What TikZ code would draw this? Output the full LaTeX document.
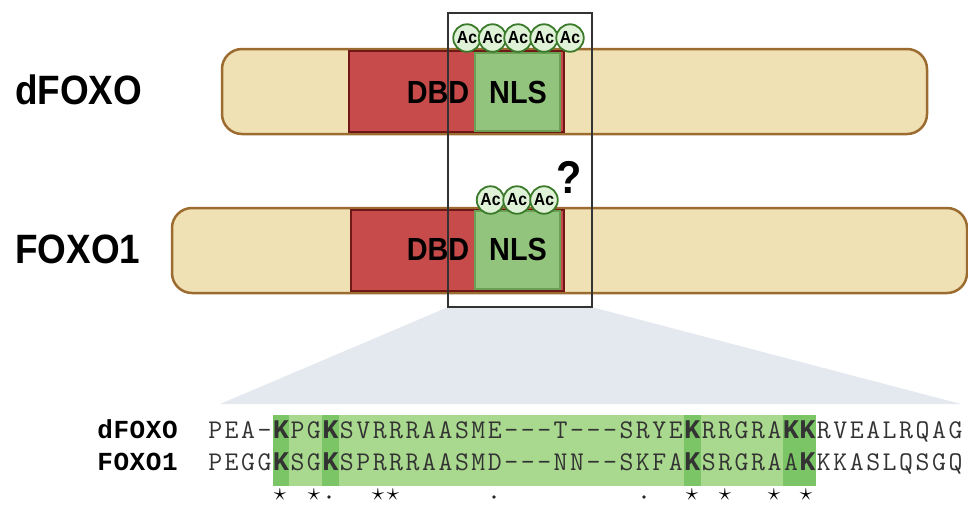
\documentclass[tikz,border=0pt]{standalone}
\usepackage{fontspec}
\newfontfamily\rob[FakeStretch=0.9]{Liberation Sans}
\newfontfamily\lmono{Liberation Mono}
\newcommand\bk{{\lmono\bfseries K}}
\definecolor{barfill}{HTML}{F0E1B5}
\definecolor{barline}{HTML}{9C6B30}
\definecolor{dbdfill}{HTML}{C84B4B}
\definecolor{dbdline}{HTML}{701818}
\definecolor{nlsfill}{HTML}{93C47D}
\definecolor{nlsline}{HTML}{6AA054}
\definecolor{acfill}{HTML}{DFF2D8}
\definecolor{acline}{HTML}{3A7A2A}
\definecolor{trapfill}{HTML}{E4E9F0}
\definecolor{hilite}{HTML}{A9D98E}
\definecolor{hidark}{HTML}{7CC567}
\begin{document}
\begin{tikzpicture}[x=1pt,y=-1pt,
  bar/.style={draw=barline, fill=barfill, line width=2.5pt, rounded corners=20pt, inner sep=0},
  dbd/.style={draw=dbdline, fill=dbdfill, line width=2pt, inner sep=0},
  nls/.style={draw=nlsline, fill=nlsfill, line width=2pt, inner sep=0},
  dom/.style={font={\rob\bfseries\fontsize{32}{34}\selectfont}, anchor=base, inner sep=0},
  acc/.style={circle, draw=acline, fill=acfill, line width=1.8pt, minimum size=27.5pt, inner sep=0, font={\rob\bfseries\fontsize{17.5}{18}\selectfont}},
  bigl/.style={font={\rob\bfseries\fontsize{41}{42}\selectfont}, anchor=base west, inner sep=0},
  seqch/.style={font={\fontsize{27}{28}\selectfont\ttfamily}, text=black!80, anchor=base, inner sep=0},
  seqlab/.style={font={\lmono\bfseries\fontsize{26}{27}\selectfont}, anchor=base, inner sep=0},
  zoombox/.style={draw=black!80, line width=1.5pt, inner sep=0},
  starn/.style={font={\fontsize{26}{26}\selectfont}, inner sep=0},
  dotn/.style={circle, fill=black!85, minimum size=3.8pt, inner sep=0}
]
\useasboundingbox (0,0) rectangle (968,504);

% dFOXO
\node[bigl] (ldf) at (15,104) {dFOXO};
\node[bar, minimum width=705pt, minimum height=85pt] (dbar) at (574.5,91.5) {};
\node[dbd, minimum width=215pt, minimum height=81pt] (dred) at (456.5,91.5) {};
\node[nls, minimum width=85pt, minimum height=78pt] (dnls) at (517.5,91.75) {};
\node[dom] (ddbd) at (438,103) {DBD};
\node[dom] (dnlst) at (518,103) {NLS};
\node[acc] (da1) at (467,38) {Ac};
\node[acc] (da2) at (492.5,38) {Ac};
\node[acc] (da3) at (518,38) {Ac};
\node[acc] (da4) at (544,38) {Ac};
\node[acc] (da5) at (570,38) {Ac};

% FOXO1
\node[bigl] (lfo) at (15,263) {FOXO1};
\node[bar, minimum width=795pt, minimum height=85pt] (fbar) at (569.5,250.5) {};
\node[dbd, minimum width=213pt, minimum height=81pt] (fred) at (457.5,250.5) {};
\node[nls, minimum width=85pt, minimum height=78pt] (fnls) at (517.5,250) {};
\node[dom] (fdbd) at (438,260) {DBD};
\node[dom] (fnlst) at (518,260) {NLS};
\node[acc] (fa1) at (490.5,200) {Ac};
\node[acc] (fa2) at (517,200) {Ac};
\node[acc] (fa3) at (544,200) {Ac};
\node[font={\rob\bfseries\fontsize{46}{46}\selectfont}, inner sep=0] (q) at (569,177) {?};

% zoom box and trapezoid
\node[minimum width=144pt, minimum height=294pt, inner sep=0] (zb) at (520,160) {};
\coordinate (tl) at (220,404);
\coordinate (tr) at (961,404);
\fill[trapfill] (zb.south west) -- (zb.south east) -- (tr) -- (tl) -- cycle;
\node[zoombox, minimum width=144pt, minimum height=294pt] (zbox) at (520,160) {};

% alignment highlight
\fill[hilite] (272.8,415) rectangle (815.65,486);
\fill[hidark] (272.8,415) rectangle (289.25,486);
\fill[hidark] (322.15,415) rectangle (338.6,486);
\fill[hidark] (684.05,415) rectangle (700.5,486);
\fill[hidark] (782.75,415) rectangle (815.65,486);

% labels
\foreach \ch [count=\i from 0] in {d,F,O,X,O}
  \node[seqlab] (la\i) at ({97+16.2*(\i+0.5)},438.5) {\ch};
\foreach \ch [count=\i from 0] in {F,O,X,O,1}
  \node[seqlab] (lb\i) at ({97+16.2*(\i+0.5)},470.5) {\ch};

% sequences
\foreach \ch [count=\i from 0] in {P,E,A,-,\bk,P,G,\bk,S,V,R,R,R,A,A,S,M,E,-,-,-,T,-,-,-,S,R,Y,E,\bk,R,R,G,R,A,\bk,\bk,R,V,E,A,L,R,Q,A,G}
  \node[seqch] (sa\i) at ({207+16.45*(\i+0.5)},438.5) {\ch};
\foreach \ch [count=\i from 0] in {P,E,G,G,\bk,S,G,\bk,S,P,R,R,R,A,A,S,M,D,-,-,-,N,N,-,-,S,K,F,A,\bk,S,R,G,R,A,A,\bk,K,K,A,S,L,Q,S,G,Q}
  \node[seqch] (sb\i) at ({207+16.45*(\i+0.5)},470.5) {\ch};

% conservation marks
\foreach \xx [count=\i] in {280,314,378,393,692,725,774,806}
  \node[starn] (st\i) at (\xx,494.5) {$\star$};
\foreach \xx [count=\i] in {329,494,644}
  \node[dotn] (dt\i) at (\xx,497) {};
\end{tikzpicture}
\end{document}
